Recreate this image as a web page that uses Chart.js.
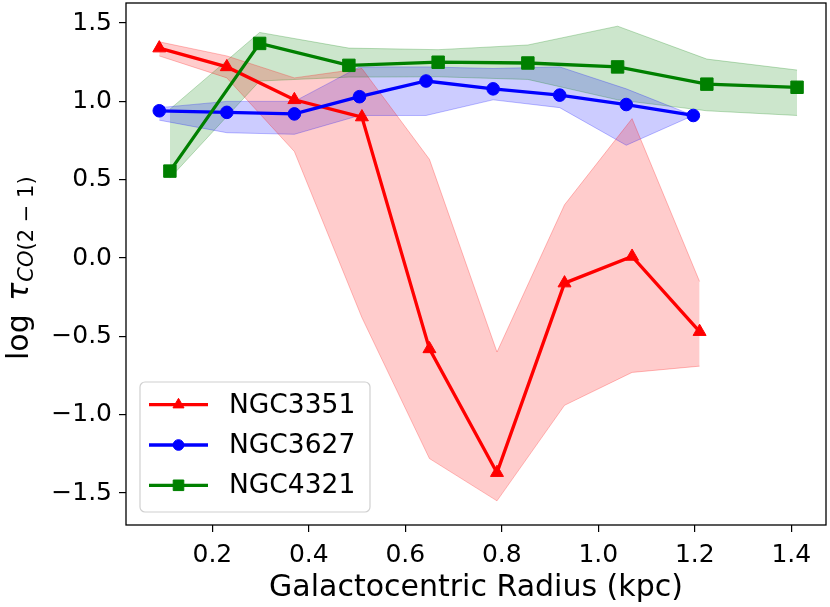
<!DOCTYPE html>
<html>
<head>
<meta charset="utf-8">
<script src="https://cdn.jsdelivr.net/npm/chart.js@4/dist/chart.umd.min.js"></script>
<style>
  html, body { margin: 0; padding: 0; background: #fff; }
  canvas { display: block; }
</style>
</head>
<body>
<canvas id="tau" width="830" height="607"></canvas>
<script>
// NGC3351
const radiiN3351 = [0.09, 0.23, 0.37, 0.51, 0.65, 0.79, 0.93, 1.07, 1.21]
const tauN3351   = [1.34, 1.22, 1.01, 0.90, -0.58, -1.37, -0.16, 0.01, -0.47]
const upN3351    = [1.38, 1.29, 1.15, 1.21, 0.63, -0.60, 0.34, 0.89, -0.15]
const lowN3351   = [1.29, 1.15, 0.68, -0.38, -1.28, -1.55, -0.94, -0.73, -0.69]

// NGC3627
const radiiN3627 = [0.09, 0.23, 0.37, 0.505, 0.643, 0.782, 0.92, 1.058, 1.197]
const tauN3627   = [0.94, 0.93, 0.92, 1.03, 1.13, 1.08, 1.04, 0.98, 0.91]
const upN3627    = [0.96, 1.00, 1.00, 1.22, 1.22, 1.21, 1.22, 1.08, 0.91]
const lowN3627   = [0.88, 0.80, 0.79, 0.91, 0.91, 1.01, 0.96, 0.72, 0.91]

// NGC4321
const radiiN4321 = [0.112, 0.298, 0.483, 0.668, 0.854, 1.04, 1.225, 1.412]
const tauN4321   = [0.555, 1.37, 1.23, 1.25, 1.245, 1.22, 1.11, 1.09]
const upN4321    = [0.95, 1.44, 1.34, 1.33, 1.36, 1.48, 1.27, 1.20]
const lowN4321   = [0.51, 1.13, 1.155, 1.157, 1.14, 1.01, 0.94, 0.91]

const xTicks = [0.2, 0.4, 0.6, 0.8, 1.0, 1.2, 1.4]
const yTicks = [-1.5, -1.0, -0.5, 0.0, 0.5, 1.0, 1.5]

const FONT = 'DejaVu Sans'
const pts = (xs, ys) => xs.map((x, i) => ({x: x, y: ys[i]}))

const galaxies = [
    {name: 'NGC3351', r: radiiN3351, v: tauN3351, up: upN3351, low: lowN3351, rgb: '255,0,0', style: 'triangle', size: 7.5},
    {name: 'NGC3627', r: radiiN3627, v: tauN3627, up: upN3627, low: lowN3627, rgb: '0,0,255', style: 'circle', size: 6.3},
    {name: 'NGC4321', r: radiiN4321, v: tauN4321, up: upN4321, low: lowN4321, rgb: '0,128,0', style: 'rect', size: 8.8}
]

const datasets = []
galaxies.forEach((g, k) => {
    datasets.push({
        data: pts(g.r, g.up), borderColor: 'rgba(' + g.rgb + ',0.25)', borderWidth: 1,
        pointRadius: 0, fill: false, order: 10 + k
    })
    datasets.push({
        data: pts(g.r, g.low), borderColor: 'rgba(' + g.rgb + ',0.25)', borderWidth: 1,
        backgroundColor: 'rgba(' + g.rgb + ',0.2)', pointRadius: 0, fill: '-1', order: 10 + k
    })
    datasets.push({
        label: g.name, main: true, data: pts(g.r, g.v),
        borderColor: 'rgb(' + g.rgb + ')', backgroundColor: 'rgb(' + g.rgb + ')',
        borderWidth: 3.3, pointStyle: g.style, pointRadius: g.size, pointBorderWidth: 1,
        fill: false, order: 3 - k
    })
})

const fmt = v => (v < 0 ? '\u2212' : '') + Math.abs(v).toFixed(1)

// frame, y title with subscript, legend box
const decor = {
    id: 'decor',
    afterDraw(chart) {
        const ctx = chart.ctx, a = chart.chartArea
        ctx.save()
        ctx.strokeStyle = '#000'
        ctx.lineWidth = 1.3
        ctx.strokeRect(a.left, a.top, a.right - a.left, a.bottom - a.top)

        // y axis title: log tau_{CO(2-1)}
        ctx.translate(28, 360)
        ctx.rotate(-Math.PI / 2)
        ctx.fillStyle = '#000'
        ctx.textBaseline = 'alphabetic'
        ctx.textAlign = 'left'
        ctx.font = '30px ' + FONT
        ctx.fillText('log', 0, 0)
        let w = ctx.measureText('log ').width + 4
        ctx.font = 'italic 30px ' + FONT
        ctx.fillText('\u03c4', w, 0)
        w += ctx.measureText('\u03c4').width + 1
        ctx.font = 'italic 21px ' + FONT
        ctx.fillText('CO', w, 5)
        w += ctx.measureText('CO').width
        ctx.font = '21px ' + FONT
        ctx.fillText('(2 \u2212 1)', w, 5)
        ctx.restore()

        // legend
        ctx.save()
        const bx = 140, by = 382, bw = 230, bh = 130
        ctx.beginPath()
        ctx.roundRect(bx, by, bw, bh, 5)
        ctx.fillStyle = 'rgba(255,255,255,0.8)'
        ctx.fill()
        ctx.strokeStyle = '#d0d0d0'
        ctx.lineWidth = 1.2
        ctx.stroke()
        const mains = chart.data.datasets.filter(d => d.main)
        mains.forEach((d, i) => {
            const y = 404.7 + i * 40.3
            ctx.strokeStyle = d.borderColor
            ctx.fillStyle = d.borderColor
            ctx.lineWidth = 3.3
            ctx.beginPath()
            ctx.moveTo(149, y)
            ctx.lineTo(208, y)
            ctx.stroke()
            ctx.lineWidth = 1
            Chart.helpers.drawPoint(ctx, {pointStyle: d.pointStyle, radius: d.pointRadius * 0.85, rotation: 0, borderWidth: 1}, 178.5, y)
            ctx.fillStyle = '#000'
            ctx.font = '26.5px ' + FONT
            ctx.textBaseline = 'middle'
            ctx.textAlign = 'left'
            ctx.fillText(d.label, 229, y + 1)
        })
        ctx.restore()
    }
}

new Chart(document.getElementById('tau'), {
    type: 'line',
    data: {datasets: datasets},
    plugins: [decor],
    options: {
        responsive: false,
        animation: false,
        events: [],
        layout: {autoPadding: false, padding: {left: 0, right: 4, top: 3, bottom: 0}},
        plugins: {
            legend: {display: false},
            tooltip: {enabled: false},
            filler: {drawTime: 'beforeDatasetsDraw'}
        },
        elements: {line: {tension: 0}},
        scales: {
            x: {
                type: 'linear', min: 0.021, max: 1.472,
                afterBuildTicks: s => { s.ticks = xTicks.map(v => ({value: v})) },
                afterFit: s => { s.height = 82; s.paddingLeft = 0; s.paddingRight = 0 },
                grid: {drawOnChartArea: false, drawTicks: true, tickLength: 7, color: '#000', lineWidth: 1.2},
                border: {display: false},
                ticks: {color: '#000', padding: 8, font: {family: FONT, size: 25}, callback: v => fmt(v), maxRotation: 0},
                title: {display: true, text: 'Galactocentric Radius (kpc)', color: '#000',
                        font: {family: FONT, size: 30}, padding: {top: 0, bottom: 1}}
            },
            y: {
                type: 'linear', min: -1.704, max: 1.628,
                afterBuildTicks: s => { s.ticks = yTicks.map(v => ({value: v})) },
                afterFit: s => { s.width = 126; s.paddingTop = 0; s.paddingBottom = 0 },
                grid: {drawOnChartArea: false, drawTicks: true, tickLength: 7, color: '#000', lineWidth: 1.2},
                border: {display: false},
                ticks: {color: '#000', padding: 7, font: {family: FONT, size: 25}, callback: v => fmt(v)}
            }
        }
    }
})
</script>
</body>
</html>
